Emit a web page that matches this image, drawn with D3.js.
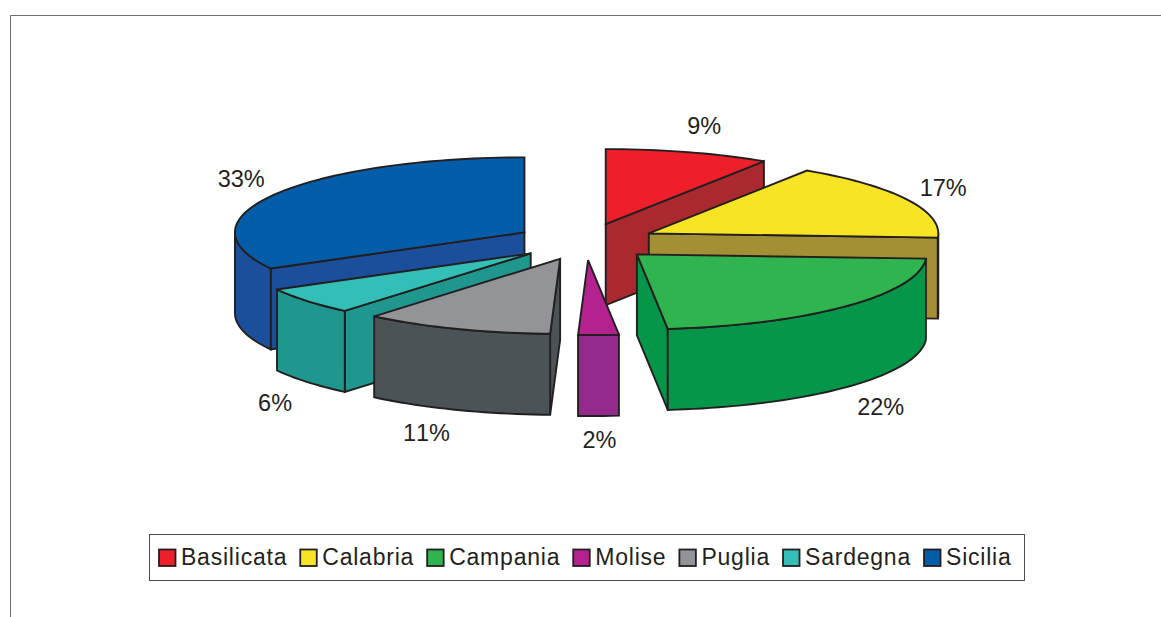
<!DOCTYPE html>
<html>
<head>
<meta charset="utf-8">
<script src="https://cdn.jsdelivr.net/npm/d3@7"></script>
<style>
html,body{margin:0;padding:0;background:#fff;overflow:hidden}
svg{display:block}
text{font-family:"Liberation Sans",Arial,sans-serif;fill:#231f20;font-kerning:none}
</style>
</head>
<body>
<svg id="chart" width="1161" height="617"></svg>
<script>
// Data
const categories = ["Basilicata","Calabria","Campania","Molise","Puglia","Sardegna","Sicilia"];
const values = [9.2,16.7,22.4,2.25,10.55,5.9,33.0];
const percentLabels = ["9%","17%","22%","2%","11%","6%","33%"];
// Styles and layout
const topColors = ["#ee1f2b","#f7e425","#2fb44f","#b3228f","#929497","#33bfb7","#045da9"];
const sideColors = ["#a9292f","#a39035","#05964a","#932a8c","#4b5356","#1f978f","#1b4f9c"];
const labelShift = [[16,-26],[36,-12],[34,20],[1,24],[-30,23],[-32,21],[-34,-15]];
const stroke = "#231f20";
const center = {x:585.5, y:241.7}, rx = 289.5, ry = 75, depth = 81, explode = 0.245;

const svg = d3.select("#chart");
const X = d3.scaleLinear().domain([-1,1]).range([center.x-rx, center.x+rx]);
const Y = d3.scaleLinear().domain([-1,1]).range([center.y-ry, center.y+ry]);

// Frame
svg.append("path").attr("d","M10.5,617V15.5H1161").attr("fill","none").attr("stroke","#6d6e71").attr("stroke-width",1);

const pie = d3.pie().sort(null).value(d=>d).startAngle(0).endAngle(2*Math.PI);
const arcs = pie(values).map((a,i)=>{
  const mid = (a.startAngle+a.endAngle)/2;
  return {i, a0:a.startAngle, a1:a.endAngle, mid,
    ox: explode*Math.sin(mid), oy: -explode*Math.cos(mid)};
});
const line = d3.line().x(d=>d[0]).y(d=>d[1]);
const rim = (s,a,b,dz=0)=>{
  const pts=[], n=Math.max(2,Math.ceil((b-a)/0.03));
  for(let k=0;k<=n;k++){
    const th=a+(b-a)*k/n;
    pts.push([X(s.ox+Math.sin(th)), Y(s.oy-Math.cos(th))+dz]);
  }
  return pts;
};
// Paint from the back to the front
const order = arcs.slice().sort((p,q)=>p.oy-q.oy);
const g = svg.append("g").attr("stroke",stroke).attr("stroke-width",1.9)
  .attr("stroke-linejoin","miter").attr("stroke-miterlimit",2);
order.forEach(s=>{
  const apex=[X(s.ox),Y(s.oy)];
  const side=sideColors[s.i], top=topColors[s.i];
  const wall=(th)=>{
    const e=[X(s.ox+Math.sin(th)),Y(s.oy-Math.cos(th))];
    g.append("path").attr("fill",side)
     .attr("d",line([apex,e,[e[0],e[1]+depth],[apex[0],apex[1]+depth]])+"Z");
  };
  if(Math.sin(s.a1)>0.01) wall(s.a1);
  if(Math.sin(s.a0)<-0.01) wall(s.a0);
  const f=Math.max(s.a0,Math.PI/2), t=Math.min(s.a1,1.5*Math.PI);
  if(t>f){
    const upper=rim(s,f,t), lower=rim(s,f,t,depth).reverse();
    g.append("path").attr("fill",side).attr("d",line(upper.concat(lower))+"Z");
  }
  g.append("path").attr("fill",top).attr("d",line([apex].concat(rim(s,s.a0,s.a1)))+"Z");
});

// Percent labels
const labelSize = 23.5;
arcs.forEach(s=>{
  const below = Math.cos(s.mid)<0 ? depth : 0;
  svg.append("text")
    .attr("x",X(s.ox+Math.sin(s.mid))+labelShift[s.i][0])
    .attr("y",Y(s.oy-Math.cos(s.mid))+below+labelShift[s.i][1])
    .attr("text-anchor","middle").attr("dominant-baseline","central")
    .attr("font-size",labelSize).text(percentLabels[s.i]);
});

// Legend
const lg = svg.append("g");
lg.append("rect").attr("x",149.5).attr("y",534.5).attr("width",875).attr("height",46)
  .attr("fill","#fff").attr("stroke","#4d4d4f").attr("stroke-width",1);
let lx = 159;
categories.forEach((c,i)=>{
  lg.append("rect").attr("x",lx).attr("y",549.5).attr("width",16.5).attr("height",16.5)
    .attr("fill",topColors[i]).attr("stroke",stroke).attr("stroke-width",1.8);
  const t = lg.append("text").attr("x",lx+22).attr("y",565).attr("font-size",23)
    .attr("letter-spacing",0.78).text(c);
  lx += 22 + t.node().getComputedTextLength() + 13;
});
</script>
</body>
</html>
